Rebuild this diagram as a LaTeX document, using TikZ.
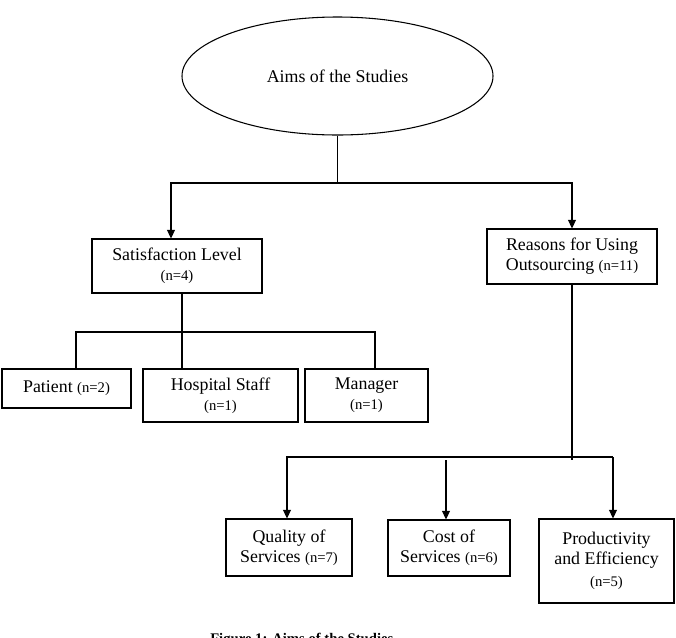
\documentclass[tikz,border=0pt]{standalone}
\usepackage{fontspec}
\setmainfont{Liberation Serif}
\usetikzlibrary{arrows.meta,shapes.geometric,calc}
\newcommand{\bigf}{\fontsize{13.4}{15}\selectfont}
\newcommand{\smf}{\fontsize{11}{13}\selectfont}
\begin{document}
\begin{tikzpicture}[x=0.75pt,y=-0.75pt,
  box/.style={draw, line width=0.8pt, inner sep=0pt, align=center, font=\bigf},
  conn/.style={line width=0.8pt},
  arr/.style={line width=0.8pt, -{Triangle[length=6.5pt,width=6pt]}}]
\useasboundingbox (0,0) rectangle (676,637);
\node[box, ellipse, minimum width=233.25pt, minimum height=88.5pt] (aims) at (337.5,76) {Aims of the Studies};
\node[box, minimum width=127.5pt, minimum height=40.5pt] (sat) at (177,266) {Satisfaction Level\\{\smf(n=4)}};
\node[box, minimum width=127.5pt, minimum height=41.25pt] (rea) at (572,256.5) {Reasons for Using\\Outsourcing {\smf(n=11)}};
\node[box, minimum width=96.75pt, minimum height=29.25pt] (pat) at (66.5,388.5) {Patient {\smf(n=2)}};
\node[box, minimum width=116.25pt, minimum height=39.75pt] (hos) at (220.5,395.5) {Hospital Staff\\{\smf(n=1)}};
\node[box, minimum width=92.25pt, minimum height=39.75pt] (man) at (366.5,395.5) {Manager\\{\smf(n=1)}};
\node[box, minimum width=94.5pt, minimum height=42.75pt] (qua) at (289,547.5) {Quality of\\Services {\smf(n=7)}};
\node[box, minimum width=91.5pt, minimum height=42pt] (cos) at (449,548) {Cost of\\Services {\smf(n=6)}};
\node[box, minimum width=101.25pt, minimum height=63pt] (pro) at (606.5,561) {Productivity\\and Efficiency\\[2pt]{\smf(n=5)}};
\node[anchor=base west, inner sep=0pt, font=\bfseries\fontsize{11}{13}\selectfont] (cap) at (210,643) {Figure 1: Aims of the Studies};
% top level
\coordinate (j1) at (337.5,183);
\draw[conn] (aims.south) -- (j1);
\draw[arr] (j1) -| ($(sat.north)+(-6,0)$);
\draw[arr] (j1) -| (rea.north);
% satisfaction branch
\coordinate (j2) at (182,332);
\coordinate (j2l) at (76,332);
\coordinate (j2r) at (375,332);
\draw[conn] ($(sat.south)+(5,0)$) -- (j2) -- (j2 |- hos.north);
\draw[conn] (j2l |- pat.north) -- (j2l) -- (j2r) -- (j2r |- man.north);
% reasons branch
\coordinate (j3) at (572,460);
\coordinate (j3l) at (287,457);
\coordinate (j3r) at (613,457);
\coordinate (j3m) at (446,460);
\draw[conn] (rea.south) -- (j3);
\draw[arr] (j3r) -- (j3l) -- (j3l |- qua.north);
\draw[arr] (j3r) -- (j3r |- pro.north);
\draw[arr] (j3m) -- (j3m |- cos.north);
\end{tikzpicture}
\end{document}
